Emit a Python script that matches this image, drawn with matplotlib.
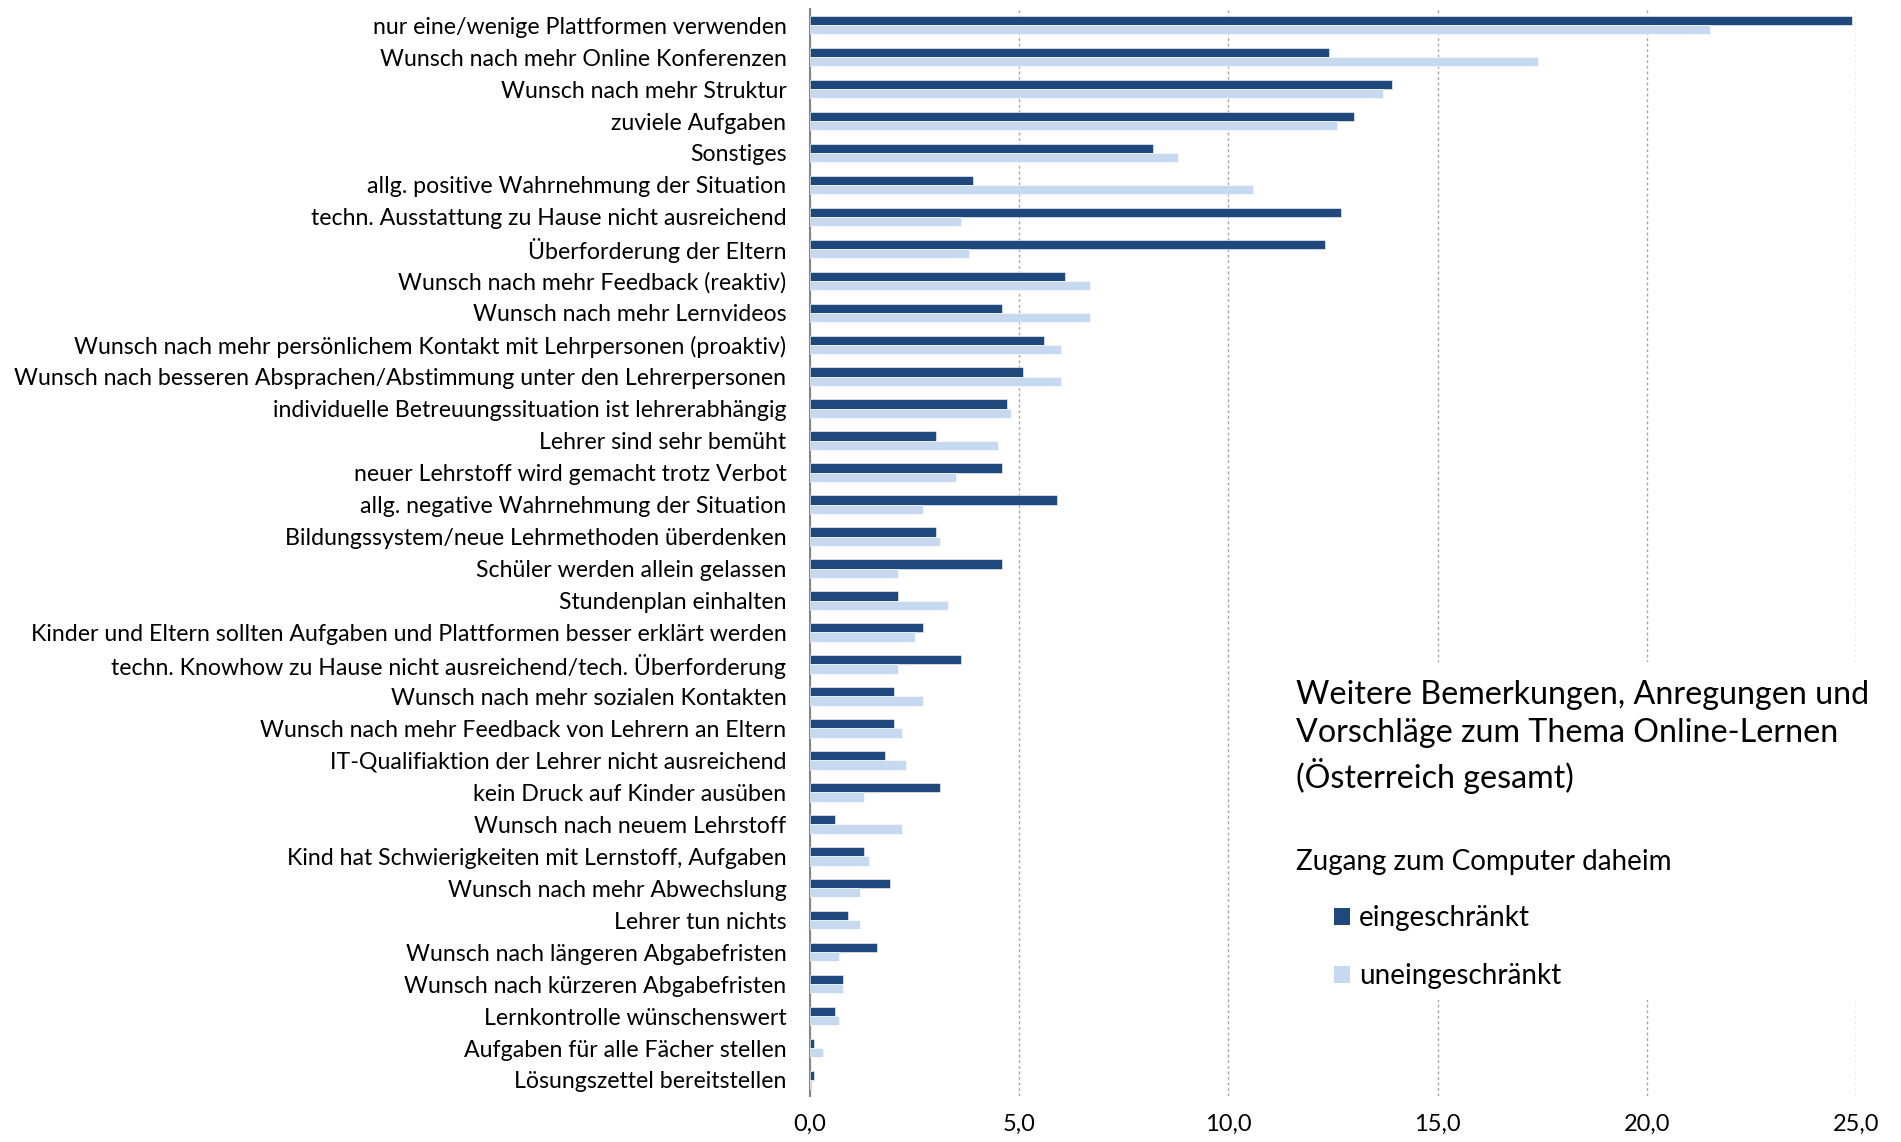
import numpy as np
import matplotlib
matplotlib.use("Agg")
from matplotlib import pyplot as plt
from matplotlib.patches import Rectangle, Patch
from matplotlib.ticker import FuncFormatter

# ------------------------------------------------------------
# data (percent of mentions)
# ------------------------------------------------------------
categories = [
    "nur eine/wenige Plattformen verwenden",
    "Wunsch nach mehr Online Konferenzen",
    "Wunsch nach mehr Struktur",
    "zuviele Aufgaben",
    "Sonstiges",
    "allg. positive Wahrnehmung der Situation",
    "techn. Ausstattung zu Hause nicht ausreichend",
    "Überforderung der Eltern",
    "Wunsch nach mehr Feedback (reaktiv)",
    "Wunsch nach mehr Lernvideos",
    "Wunsch nach mehr persönlichem Kontakt mit Lehrpersonen (proaktiv)",
    "Wunsch nach besseren Absprachen/Abstimmung unter den Lehrerpersonen",
    "individuelle Betreuungssituation ist lehrerabhängig",
    "Lehrer sind sehr bemüht",
    "neuer Lehrstoff wird gemacht trotz Verbot",
    "allg. negative Wahrnehmung der Situation",
    "Bildungssystem/neue Lehrmethoden überdenken",
    "Schüler werden allein gelassen",
    "Stundenplan einhalten",
    "Kinder und Eltern sollten Aufgaben und Plattformen besser erklärt werden",
    "techn. Knowhow zu Hause nicht ausreichend/tech. Überforderung",
    "Wunsch nach mehr sozialen Kontakten",
    "Wunsch nach mehr Feedback von Lehrern an Eltern",
    "IT-Qualifiaktion der Lehrer nicht ausreichend",
    "kein Druck auf Kinder ausüben",
    "Wunsch nach neuem Lehrstoff",
    "Kind hat Schwierigkeiten mit Lernstoff, Aufgaben",
    "Wunsch nach mehr Abwechslung",
    "Lehrer tun nichts",
    "Wunsch nach längeren Abgabefristen",
    "Wunsch nach kürzeren Abgabefristen",
    "Lernkontrolle wünschenswert",
    "Aufgaben für alle Fächer stellen",
    "Lösungszettel bereitstellen",
]

eingeschraenkt = [
    24.9, 12.4, 13.9, 13.0, 8.2, 3.9, 12.7, 12.3, 6.1, 4.6, 5.6, 5.1,
    4.7, 3.0, 4.6, 5.9, 3.0, 4.6, 2.1, 2.7, 3.6, 2.0, 2.0, 1.8,
    3.1, 0.6, 1.3, 1.9, 0.9, 1.6, 0.8, 0.6, 0.1, 0.1,
]

uneingeschraenkt = [
    21.5, 17.4, 13.7, 12.6, 8.8, 10.6, 3.6, 3.8, 6.7, 6.7, 6.0, 6.0,
    4.8, 4.5, 3.5, 2.7, 3.1, 2.1, 3.3, 2.5, 2.1, 2.7, 2.2, 2.3,
    1.3, 2.2, 1.4, 1.2, 1.2, 0.7, 0.8, 0.7, 0.3, 0.05,
]

series_names = ["eingeschränkt", "uneingeschränkt"]
legend_title = "Zugang zum Computer daheim"
chart_title = "Weitere Bemerkungen, Anregungen und\nVorschläge zum Thema Online-Lernen\n(Österreich gesamt)"
x_ticks = [0, 5, 10, 15, 20, 25]

DARK = "#1F497D"
LIGHT = "#C6D9F1"
FONT = ["Lato", "DejaVu Sans"]

plt.rcParams["font.family"] = FONT

fig = plt.figure(figsize=(19.01, 11.42), dpi=100)
ax = fig.add_axes([0.4261, 0.0403, 0.5502, 0.9517])

y = np.arange(len(categories))
h = 0.29
ax.barh(y - h / 2, eingeschraenkt, height=h, color=DARK, edgecolor="white", linewidth=0.4, zorder=3)
ax.barh(y + h / 2, uneingeschraenkt, height=h, color=LIGHT, edgecolor="white", linewidth=0.4, zorder=3)

ax.set_ylim(len(categories) - 0.5, -0.5)
ax.set_xlim(0, 25)
ax.set_yticks(y)
ax.set_yticklabels(categories, fontsize=16.7)
ax.set_xticks(x_ticks)
ax.xaxis.set_major_formatter(FuncFormatter(lambda v, p: f"{v:.1f}".replace(".", ",")))
ax.tick_params(axis="y", length=0, pad=17)
ax.tick_params(axis="x", length=0, pad=13, labelsize=17)

ax.grid(axis="x", color="#A6A6A6", linestyle=(0, (2, 2)), linewidth=1, zorder=0)
for side in ["top", "right", "bottom"]:
    ax.spines[side].set_visible(False)
ax.spines["left"].set_color("#868686")
ax.spines["left"].set_linewidth(1.5)

# white panel behind title and legend (hides the gridlines there)
fig.patches.append(Rectangle((1285 / 1901, 1 - 1000 / 1142), 1 - 1285 / 1901, 338 / 1142,
                             transform=fig.transFigure, facecolor="white", edgecolor="none", zorder=1))

fig.text(1296 / 1901, 1 - 737 / 1142, chart_title, fontsize=23.2, va="center", ha="left",
         linespacing=1.33, zorder=3)
fig.text(1296 / 1901, 1 - 862 / 1142, legend_title, fontsize=20, va="center", ha="left", zorder=3)

handles = [Patch(facecolor=DARK), Patch(facecolor=LIGHT)]
leg = fig.legend(handles, series_names, loc="upper left",
                 bbox_to_anchor=(1334 / 1901, 1 - 905 / 1142), frameon=False,
                 fontsize=20, handlelength=0.58, handleheight=0.58,
                 handletextpad=0.33, labelspacing=1.16, borderpad=0, borderaxespad=0)

fig.savefig("out.png", dpi=100)
